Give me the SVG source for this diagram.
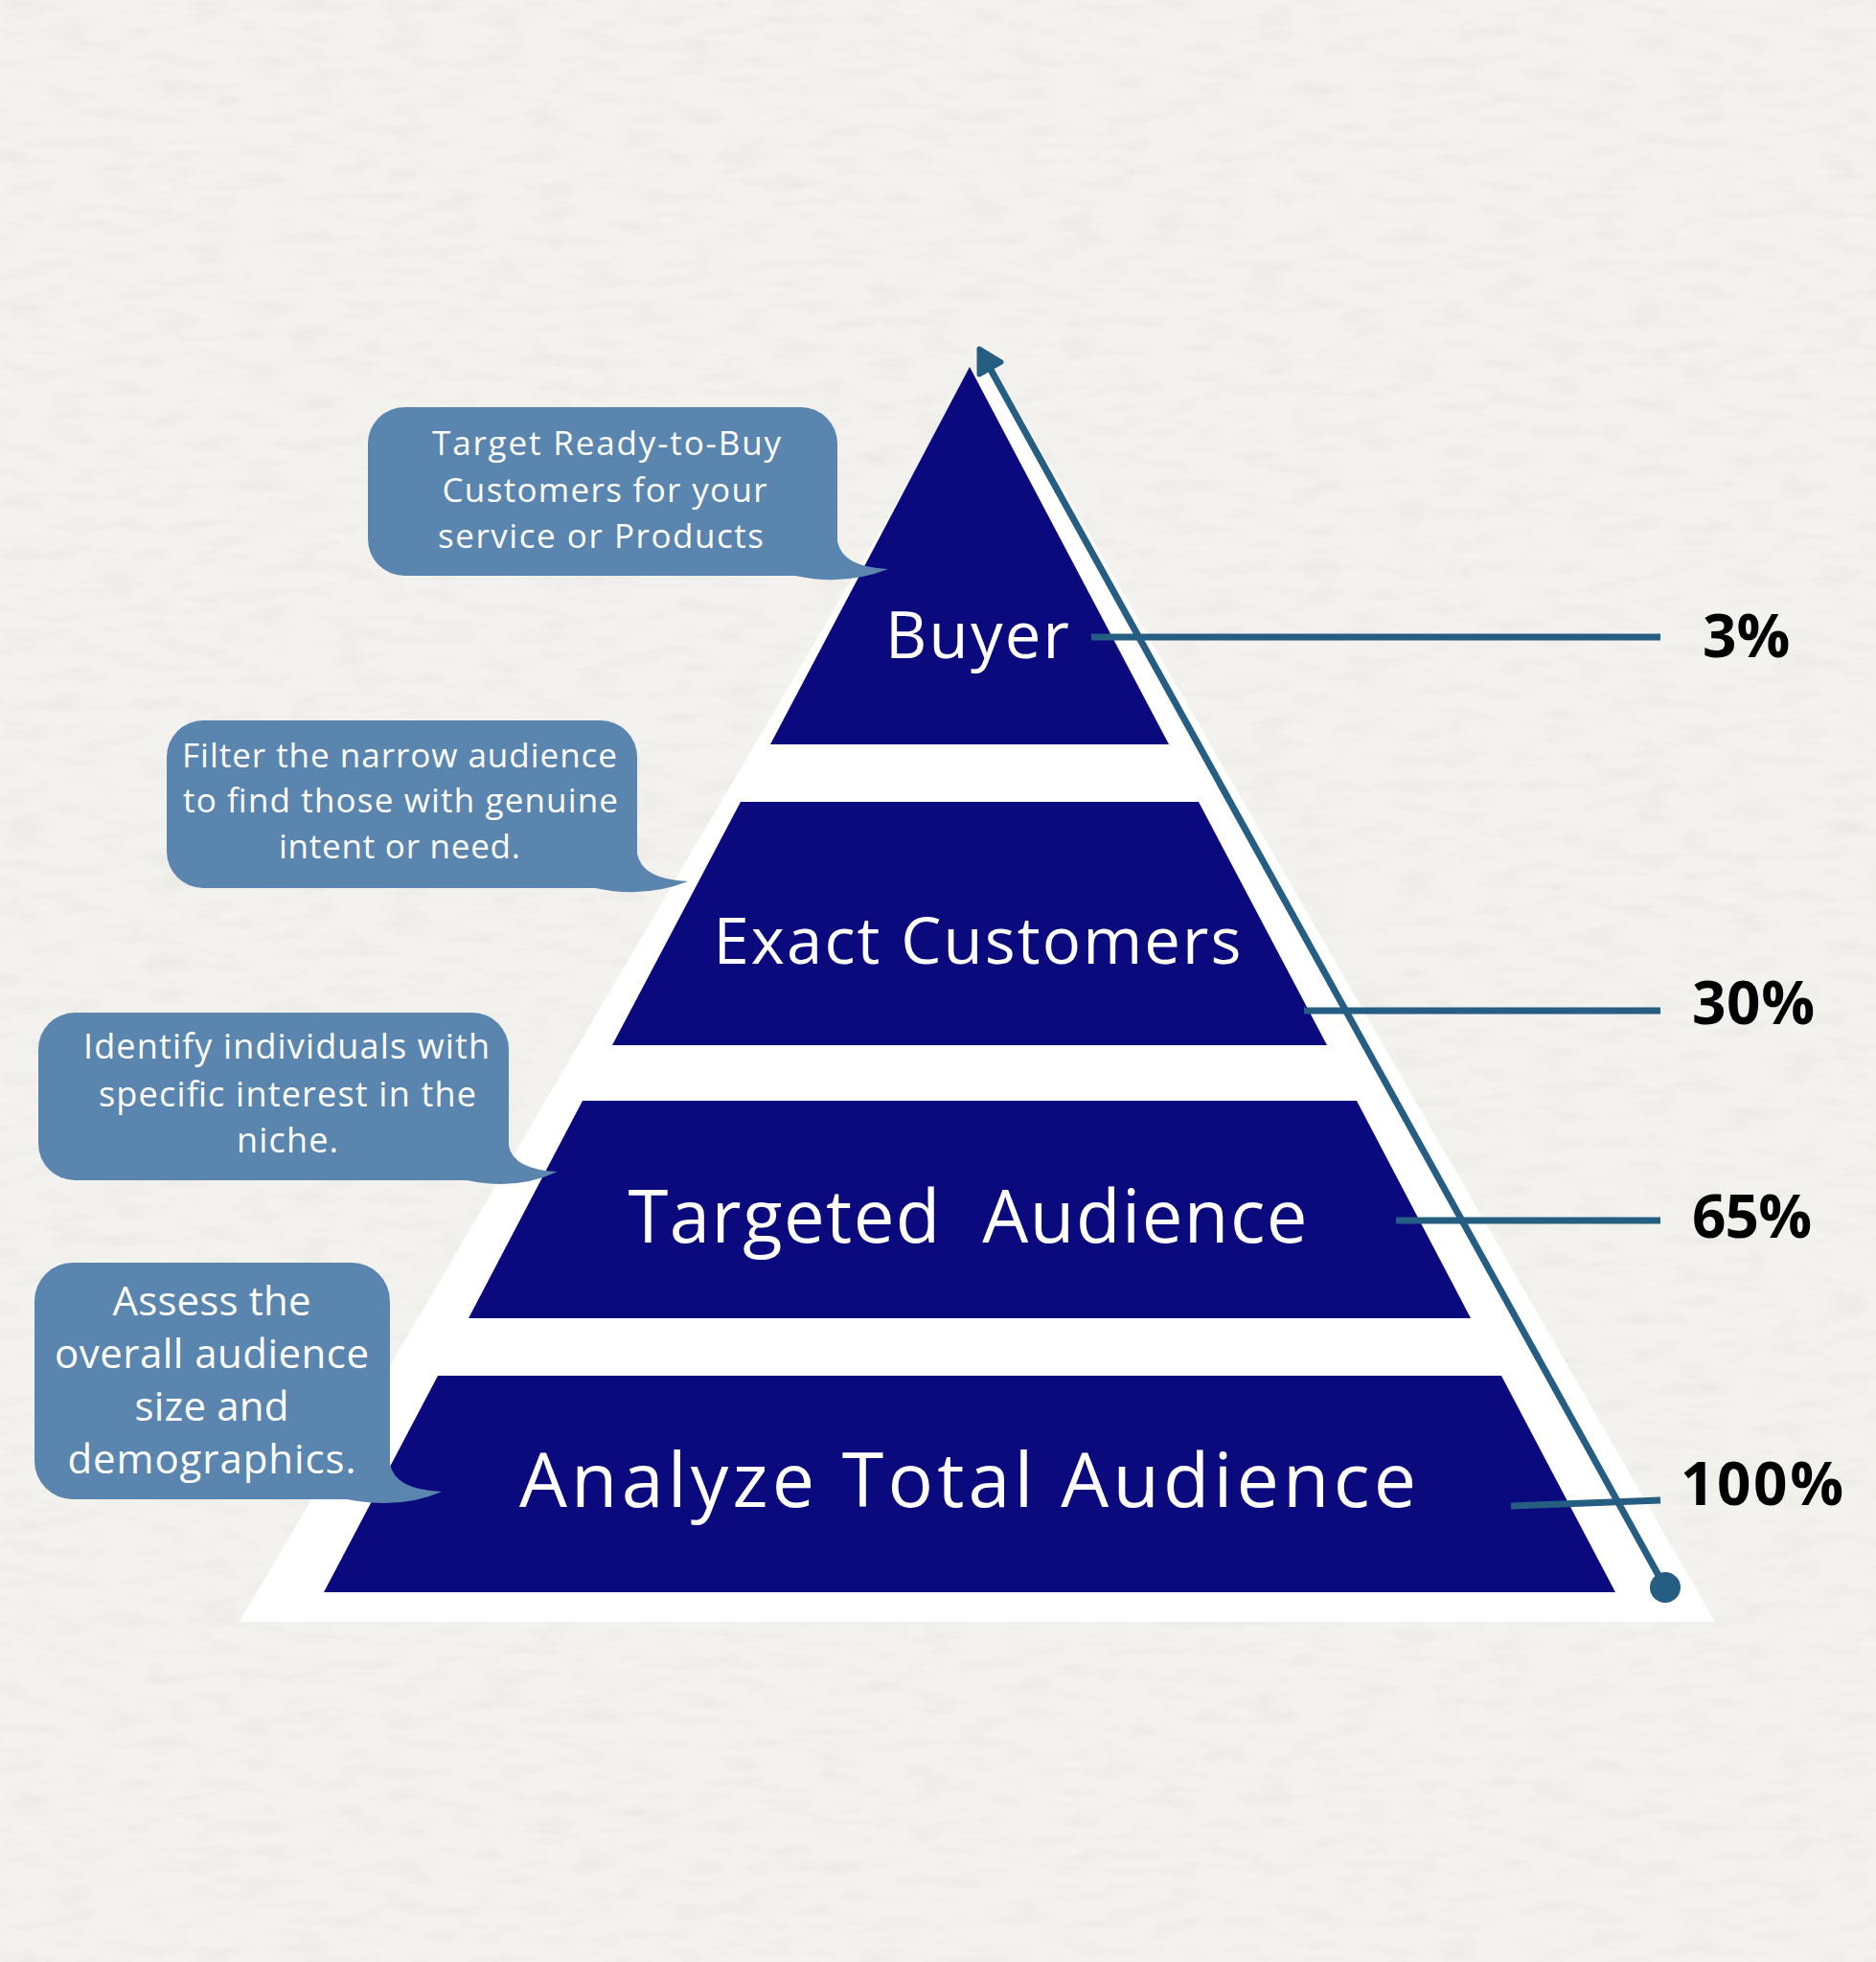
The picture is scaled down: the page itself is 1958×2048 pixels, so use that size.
<svg xmlns="http://www.w3.org/2000/svg" width="1958" height="2048" viewBox="0 0 1958 2048">
  <style>
    .tier { fill: #0a0a7e; }
    .tier-label { fill: #ffffff; font-family: "Open Sans", "Liberation Sans", sans-serif; font-weight: 400; text-anchor: middle; }
    .callout { fill: #5985ae; }
    .callout-text { fill: #ffffff; font-family: "Open Sans", "Liberation Sans", sans-serif; font-weight: 400; text-anchor: middle; }
    .pct { fill: #000000; font-family: "Open Sans", "Liberation Sans", sans-serif; font-weight: 700; font-size: 62px; }
    .lead { stroke: #255d83; stroke-width: 7; fill: none; }
  </style>
  <defs>
    <filter id="paper" x="0" y="0" width="100%" height="100%">
      <feTurbulence type="fractalNoise" baseFrequency="0.02 0.07" numOctaves="3" seed="4" result="noise"/>
      <feColorMatrix in="noise" type="matrix" values="0 0 0 0 0.55  0 0 0 0 0.53  0 0 0 0 0.5  0 0 0 -1.6 0.9"/>
    </filter>
  </defs>
  <rect x="0" y="0" width="1958" height="2048" fill="#f3f2ee"/>
  <rect x="0" y="0" width="1958" height="2048" filter="url(#paper)" opacity="0.2"/>
  <polygon points="1028,368 250,1693 1790,1693" fill="#ffffff"/>

  <g id="tier-buyer">
    <polygon class="tier" points="1012,383 1220,777 804,777"/>
    <text class="tier-label" x="1020" y="687" font-size="67" textLength="192" lengthAdjust="spacing">Buyer</text>
  </g>
  <g id="tier-exact">
    <polygon class="tier" points="773,837 1251,837 1385,1091 639,1091"/>
    <text class="tier-label" x="1020" y="1006" font-size="67" textLength="551" lengthAdjust="spacing">Exact Customers</text>
  </g>
  <g id="tier-targeted">
    <polygon class="tier" points="608,1149 1416,1149 1535,1376 489,1376"/>
    <text class="tier-label" x="1010" y="1297" font-size="76" textLength="709" lengthAdjust="spacing" xml:space="preserve">Targeted  Audience</text>
  </g>
  <g id="tier-analyze">
    <polygon class="tier" points="457,1436 1567,1436 1686,1662 338,1662"/>
    <text class="tier-label" x="1010" y="1573" font-size="79" textLength="936" lengthAdjust="spacing">Analyze Total Audience</text>
  </g>

  <g id="callout-buyer">
    <rect class="callout" x="384" y="425" width="490" height="176" rx="38"/>
    <path class="callout" d="M874,540 L874,565 Q879,592 927,594 Q882,612 830,601 L830,540 Z"/>
    <text class="callout-text" font-size="35" x="633" y="475" textLength="364" lengthAdjust="spacing">Target Ready-to-Buy</text>
    <text class="callout-text" font-size="35" x="631" y="524" textLength="339" lengthAdjust="spacing">Customers for your</text>
    <text class="callout-text" font-size="35" x="627" y="572" textLength="340" lengthAdjust="spacing">service or Products</text>
  </g>
  <g id="callout-exact">
    <rect class="callout" x="174" y="752" width="491" height="175" rx="38"/>
    <path class="callout" d="M665,866 L665,891 Q670,918 718,920 Q673,938 621,927 L621,866 Z"/>
    <text class="callout-text" font-size="35" x="417" y="801" textLength="454" lengthAdjust="spacing">Filter the narrow audience</text>
    <text class="callout-text" font-size="35" x="418" y="848" textLength="454" lengthAdjust="spacing">to find those with genuine</text>
    <text class="callout-text" font-size="35" x="417" y="896" textLength="252" lengthAdjust="spacing">intent or need.</text>
  </g>
  <g id="callout-targeted">
    <rect class="callout" x="40" y="1057" width="491" height="175" rx="38"/>
    <path class="callout" d="M531,1171 L531,1196 Q536,1221 582,1223 Q539,1243 487,1232 L487,1171 Z"/>
    <text class="callout-text" font-size="36" x="299" y="1105" textLength="424" lengthAdjust="spacing">Identify individuals with</text>
    <text class="callout-text" font-size="36" x="300" y="1155" textLength="394" lengthAdjust="spacing">specific interest in the</text>
    <text class="callout-text" font-size="36" x="300" y="1203" textLength="106" lengthAdjust="spacing">niche.</text>
  </g>
  <g id="callout-analyze">
    <rect class="callout" x="36" y="1318" width="371" height="247" rx="40"/>
    <path class="callout" d="M407,1505 L407,1528 Q412,1555 461,1557 Q418,1576 362,1565 L362,1505 Z"/>
    <text class="callout-text" font-size="42" x="221" y="1373" textLength="207" lengthAdjust="spacing">Assess the</text>
    <text class="callout-text" font-size="42" x="221" y="1428" textLength="328" lengthAdjust="spacing">overall audience</text>
    <text class="callout-text" font-size="42" x="221" y="1483" textLength="161" lengthAdjust="spacing">size and</text>
    <text class="callout-text" font-size="42" x="221" y="1538" textLength="301" lengthAdjust="spacing">demographics.</text>
  </g>

  <g id="connectors">
    <line class="lead" x1="1139" y1="665" x2="1733" y2="665"/>
    <line class="lead" x1="1361" y1="1055" x2="1733" y2="1055"/>
    <line class="lead" x1="1457" y1="1274" x2="1733" y2="1274"/>
    <line class="lead" x1="1577" y1="1572" x2="1733" y2="1566"/>
    <line class="lead" x1="1738" y1="1657" x2="1033" y2="384"/>
    <polygon points="1022,364 1045,378 1022,391" fill="#255d83" stroke="#255d83" stroke-width="5" stroke-linejoin="round"/>
    <circle cx="1738" cy="1657" r="16" fill="#255d83"/>
  </g>

  <g id="percentages">
    <text class="pct" x="1777" y="686" font-size="60">3%</text>
    <text class="pct" x="1766" y="1069" textLength="128" lengthAdjust="spacing">30%</text>
    <text class="pct" x="1766" y="1292" textLength="125" lengthAdjust="spacing">65%</text>
    <text class="pct" x="1754" y="1571" textLength="170" lengthAdjust="spacing">100%</text>
  </g>
</svg>
